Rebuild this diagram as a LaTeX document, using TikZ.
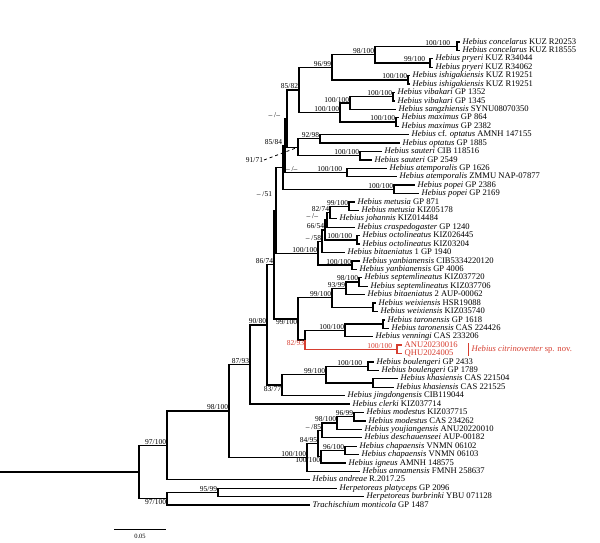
\documentclass[tikz,border=0pt]{standalone}
\usepackage{fontspec}
\setmainfont{Liberation Serif}
\usetikzlibrary{calc}
\definecolor{cred}{RGB}{214,62,48}
\tikzset{br/.style={line width=1.3pt},
  tip/.style={anchor=west, inner xsep=2.5pt, inner ysep=0pt, text height=6pt, text depth=1.8pt, font=\fontsize{8.6}{9}\selectfont},
  sup/.style={anchor=south east, inner sep=0.8pt, font=\fontsize{7.5}{8}\selectfont},
  supb/.style={sup, anchor=north east}}
\newcommand{\hb}[2]{\textit{Hebius #1} #2}

\begin{document}
\begin{tikzpicture}[x=1pt,y=-1pt]
    \useasboundingbox (0,0) rectangle (600,543);
    % tips
    \node[tip] (t1) at (460,42.0) {\hb{concelarus}{KUZ R20253}};
    \node[tip] (t2) at (460,50.4) {\hb{concelarus}{KUZ R18555}};
    \node[tip] (t3) at (433,58.8) {\hb{pryeri}{KUZ R34044}};
    \node[tip] (t4) at (433,67.3) {\hb{pryeri}{KUZ R34062}};
    \node[tip] (t5) at (410,75.7) {\hb{ishigakiensis}{KUZ R19251}};
    \node[tip] (t6) at (410,84.1) {\hb{ishigakiensis}{KUZ R19251}};
    \node[tip] (t7) at (395,92.5) {\hb{vibakari}{GP 1352}};
    \node[tip] (t8) at (395,100.9) {\hb{vibakari}{GP 1345}};
    \node[tip] (t9) at (396,109.4) {\hb{sangzhiensis}{SYNU08070350}};
    \node[tip] (t10) at (399,117.8) {\hb{maximus}{GP 864}};
    \node[tip] (t11) at (399,126.2) {\hb{maximus}{GP 2382}};
    \node[tip] (t12) at (409,134.6) {\textit{Hebius} cf. \textit{optatus} AMNH 147155};
    \node[tip] (t13) at (400,143.0) {\hb{optatus}{GP 1885}};
    \node[tip] (t14) at (382,151.5) {\hb{sauteri}{CIB 118516}};
    \node[tip] (t15) at (372,159.9) {\hb{sauteri}{GP 2549}};
    \node[tip] (t16) at (387,168.3) {\hb{atemporalis}{GP 1626}};
    \node[tip] (t17) at (397,176.7) {\hb{atemporalis}{ZMMU NAP-07877}};
    \node[tip] (t18) at (415,185.1) {\hb{popei}{GP 2386}};
    \node[tip] (t19) at (419,193.6) {\hb{popei}{GP 2169}};
    \node[tip] (t20) at (355,202.0) {\hb{metusia}{GP 871}};
    \node[tip] (t21) at (359,210.4) {\hb{metusia}{KIZ05178}};
    \node[tip] (t22) at (337,218.8) {\hb{johannis}{KIZ014484}};
    \node[tip] (t23) at (355,227.2) {\hb{craspedogaster}{GP 1240}};
    \node[tip] (t24) at (360,235.7) {\hb{octolineatus}{KIZ026445}};
    \node[tip] (t25) at (360,244.1) {\hb{octolineatus}{KIZ03204}};
    \node[tip] (t26) at (345,252.5) {\hb{bitaeniatus}{1 GP 1940}};
    \node[tip] (t27) at (360,260.9) {\hb{yanbianensis}{CIB5334220120}};
    \node[tip] (t28) at (357,269.3) {\hb{yanbianensis}{GP 4006}};
    \node[tip] (t29) at (362,277.8) {\hb{septemlineatus}{KIZ037720}};
    \node[tip] (t30) at (368,286.2) {\hb{septemlineatus}{KIZ037706}};
    \node[tip] (t31) at (365,294.6) {\hb{bitaeniatus}{2 AUP-00062}};
    \node[tip] (t32) at (376,303.0) {\hb{weixiensis}{HSR19088}};
    \node[tip] (t33) at (378,311.4) {\hb{weixiensis}{KIZ035740}};
    \node[tip] (t34) at (385,319.9) {\hb{taronensis}{GP 1618}};
    \node[tip] (t35) at (389,328.3) {\hb{taronensis}{CAS 224426}};
    \node[tip] (t36) at (373,336.7) {\hb{venningi}{CAS 233206}};
    \node[tip, text=cred] (t37) at (402,345.1) {ANU20230016};
    \node[tip, text=cred] (t38) at (402,353.5) {QHU2024005};
    \node[tip] (t39) at (374,362.0) {\hb{boulengeri}{GP 2433}};
    \node[tip] (t40) at (379,370.4) {\hb{boulengeri}{GP 1789}};
    \node[tip] (t41) at (398,378.8) {\hb{khasiensis}{CAS 221504}};
    \node[tip] (t42) at (394,387.2) {\hb{khasiensis}{CAS 221525}};
    \node[tip] (t43) at (345,395.6) {\hb{jingdongensis}{CIB119044}};
    \node[tip] (t44) at (350,404.1) {\hb{clerki}{KIZ037714}};
    \node[tip] (t45) at (364,412.5) {\hb{modestus}{KIZ037715}};
    \node[tip] (t46) at (366,420.9) {\hb{modestus}{CAS 234262}};
    \node[tip] (t47) at (362,429.3) {\hb{youjiangensis}{ANU20220010}};
    \node[tip] (t48) at (362,437.7) {\hb{deschauenseei}{AUP-00182}};
    \node[tip] (t49) at (357,446.2) {\hb{chapaensis}{VNMN 06102}};
    \node[tip] (t50) at (359,454.6) {\hb{chapaensis}{VNMN 06103}};
    \node[tip] (t51) at (346,463.0) {\hb{igneus}{AMNH 148575}};
    \node[tip] (t52) at (360,471.4) {\hb{annamensis}{FMNH 258637}};
    \node[tip] (t53) at (310,479.8) {\hb{andreae}{R.2017.25}};
    \node[tip] (t54) at (337,488.2) {\textit{Herpetoreas platyceps} GP 2096};
    \node[tip] (t55) at (364,496.7) {\textit{Herpetoreas burbrinki} YBU 071128};
    \node[tip] (t56) at (310,505.1) {\textit{Trachischium monticola} GP 1487};
    % inner nodes
    \coordinate (root) at (0,472.1);
    \coordinate (nA) at (139,472.1);
    \coordinate (nB) at (167,445.4);
    \coordinate (nO) at (167,498.8);
    \coordinate (nHer) at (218,492.5);
    \coordinate (nC) at (229,411.0);
    \coordinate (nD) at (250,364.5);
    \coordinate (nF) at (267,324.9);
    \coordinate (nG) at (274,264.6);
    \coordinate (nX) at (276,210.3);
    \coordinate (nS3) at (283,167.5);
    \coordinate (nS2) at (285,145.5);
    \coordinate (nS1) at (287,118.5);
    \coordinate (n85) at (299,89.9);
    \coordinate (n96) at (332,67.3);
    \coordinate (n98) at (375,54.6);
    \coordinate (nConc) at (457,46.2);
    \coordinate (nPry) at (430,63.0);
    \coordinate (nIsh) at (408,79.9);
    \coordinate (nVM) at (340,112.5);
    \coordinate (nVS) at (350,103.1);
    \coordinate (nVib) at (393,96.7);
    \coordinate (nMax) at (396,122.0);
    \coordinate (nR) at (298,147.2);
    \coordinate (nOpt) at (320,138.8);
    \coordinate (nSau) at (360,155.7);
    \coordinate (nAte) at (347,172.5);
    \coordinate (nPop) at (394,189.4);
    \coordinate (nM) at (318,253.2);
    \coordinate (nN3) at (322,241.2);
    \coordinate (nN2) at (325,230.0);
    \coordinate (nN1) at (327,220.0);
    \coordinate (nJ) at (330,212.5);
    \coordinate (nMet) at (349,206.2);
    \coordinate (nOct) at (357,239.9);
    \coordinate (nYan) at (352,265.1);
    \coordinate (nW) at (298,318.9);
    \coordinate (nZ) at (332,297.8);
    \coordinate (nZ1) at (346,288.3);
    \coordinate (nSep) at (359,282.0);
    \coordinate (nWei) at (373,307.2);
    \coordinate (nRN) at (305,339.9);
    \coordinate (nV) at (345,330.4);
    \coordinate (nTar) at (383,324.1);
    \coordinate (nRed) at (397,349.3);
    \coordinate (nH) at (282,385.1);
    \coordinate (nI) at (326,374.6);
    \coordinate (nBou) at (368,366.2);
    \coordinate (nKha) at (373,383.0);
    \coordinate (nE) at (307,457.5);
    \coordinate (nQ2) at (318,443.5);
    \coordinate (nQ1) at (322,430.4);
    \coordinate (nMY) at (337,423.0);
    \coordinate (nMod) at (354,416.7);
    \coordinate (nCI) at (321,456.7);
    \coordinate (nChap) at (345,450.4);
    % branches
    \draw[br] (root) -- (nA);
    \draw[br] (nA) |- (nB) (nA) |- (nO);
    \draw[br] (nO) |- (nHer) (nO) |- (t56);
    \draw[br] (nHer) |- (t54) (nHer) |- (t55);
    \draw[br] (nB) |- (nC) (nB) |- (t53);
    \draw[br] (nC) |- (nD) (nC) |- (nE);
    \draw[br] (nD) |- (nF) (nD) |- (t44);
    \draw[br] (nF) |- (nG) (nF) |- (nH);
    \draw[br] (nG) |- (nX) (nG) |- (nW);
    \draw[br] (nX) |- (nS3) (nX) |- (nM);
    \draw[br] (nS3) |- (nS2) (nS3) |- (nPop);
    \draw[br] (nS2) |- (nS1) (nS2) |- (nAte);
    \draw[br] (nS1) |- (n85) (nS1) |- (nR);
    \draw[br] (n85) |- (n96) (n85) |- (nVM);
    \draw[br] (n96) |- (n98) (n96) |- (nIsh);
    \draw[br] (n98) |- (nConc) (n98) |- (nPry);
    \draw[br] (nConc) |- (t1) (nConc) |- (t2);
    \draw[br] (nPry) |- (t3) (nPry) |- (t4);
    \draw[br] (nIsh) |- (t5) (nIsh) |- (t6);
    \draw[br] (nVM) |- (nVS) (nVM) |- (nMax);
    \draw[br] (nVS) |- (nVib) (nVS) |- (t9);
    \draw[br] (nVib) |- (t7) (nVib) |- (t8);
    \draw[br] (nMax) |- (t10) (nMax) |- (t11);
    \draw[br] (nR) |- (nOpt) (nR) |- (nSau);
    \draw[br] (nOpt) |- (t12) (nOpt) |- (t13);
    \draw[br] (nSau) |- (t14) (nSau) |- (t15);
    \draw[br] (nAte) |- (t16) (nAte) |- (t17);
    \draw[br] (nPop) |- (t18) (nPop) |- (t19);
    \draw[br] (nM) |- (nN3) (nM) |- (nYan);
    \draw[br] (nN3) |- (nN2) (nN3) |- (t26);
    \draw[br] (nN2) |- (nN1) (nN2) |- (nOct);
    \draw[br] (nN1) |- (nJ) (nN1) |- (t23);
    \draw[br] (nJ) |- (nMet) (nJ) |- (t22);
    \draw[br] (nMet) |- (t20) (nMet) |- (t21);
    \draw[br] (nOct) |- (t24) (nOct) |- (t25);
    \draw[br] (nYan) |- (t27) (nYan) |- (t28);
    \draw[br] (nW) |- (nZ) (nW) |- (nRN);
    \draw[br] (nZ) |- (nZ1) (nZ) |- (nWei);
    \draw[br] (nZ1) |- (nSep) (nZ1) |- (t31);
    \draw[br] (nSep) |- (t29) (nSep) |- (t30);
    \draw[br] (nWei) |- (t32) (nWei) |- (t33);
    \draw[br] (nRN) |- (nV);
    \draw[br, cred] (nRN) |- (nRed);
    \draw[br] (nV) |- (nTar) (nV) |- (t36);
    \draw[br] (nTar) |- (t34) (nTar) |- (t35);
    \draw[br, cred] (nRed) |- (t37) (nRed) |- (t38);
    \draw[br] (nH) |- (nI) (nH) |- (t43);
    \draw[br] (nI) |- (nBou) (nI) |- (nKha);
    \draw[br] (nBou) |- (t39) (nBou) |- (t40);
    \draw[br] (nKha) |- (t41) (nKha) |- (t42);
    \draw[br] (nE) |- (nQ2) (nE) |- (t52);
    \draw[br] (nQ2) |- (nQ1) (nQ2) |- (nCI);
    \draw[br] (nQ1) |- (nMY) (nQ1) |- (t48);
    \draw[br] (nMY) |- (nMod) (nMY) |- (t47);
    \draw[br] (nMod) |- (t45) (nMod) |- (t46);
    \draw[br] (nCI) |- (nChap) (nCI) |- (t51);
    \draw[br] (nChap) |- (t49) (nChap) |- (t50);
    % supports
    \node[sup, xshift=-6pt] at (nConc) {100/100};
    \node[sup, xshift=-4pt] at (nPry) {99/100};
    \node[sup] at (n98) {98/100};
    \node[sup] at (nIsh) {100/100};
    \node[sup] at (n96) {96/99};
    \node[sup] at (nVib) {100/100};
    \node[sup] at (nVS) {100/100};
    \node[sup] at (nMax) {100/100};
    \node[sup] at (nVM) {100/100};
    \node[sup] at (n85) {85/82};
    \node[sup] at (nOpt) {92/98};
    \node[sup] at (nSau) {100/100};
    \node[sup, xshift=-6pt] at (nS1) {-- /--};
    \node[sup, xshift=-2pt] at (nS2) {85/84};
    \node[sup, anchor=south west] at (nS2 |- nAte) {-- /--};
    \node[sup, anchor=east] (l91) at (264,160) {91/71};
    \draw[dashed, line width=0.8pt] (l91.east) -- (nR);
    \node[sup, xshift=-4pt] at (nAte) {100/100};
    \node[sup] at (nPop) {100/100};
    \node[sup] at ($(nX)+(-3,-13)$) {-- /51};
    \node[sup] at (nMet) {99/100};
    \node[sup] at (nJ) {82/74};
    \node[sup, xshift=-8pt] at (nN1) {-- /--};
    \node[sup] at (nN2) {66/54};
    \node[sup] at (nN3) {-- /58};
    \node[sup, xshift=-4pt] at (nOct) {100/100};
    \node[sup] at (nM) {100/100};
    \node[sup] at (nYan) {100/100};
    \node[sup] at (nG) {86/74};
    \node[sup] at (nSep) {98/100};
    \node[sup] at (nZ1) {93/99};
    \node[sup] at (nZ) {99/100};
    \node[supb] at (nW) {99/100};
    \node[sup] at (nV) {100/100};
    \node[supb, text=cred] at (nRN) {82/93};
    \node[sup, text=cred, xshift=-4pt] at (nRed) {100/100};
    \node[sup, xshift=-5pt] at (nBou) {100/100};
    \node[sup] at (nI) {99/100};
    \node[supb] at (nH) {83/77};
    \node[sup] at (nF) {90/80};
    \node[sup] at (nD) {87/93};
    \node[sup] at (nMod) {96/99};
    \node[sup] at (nMY) {98/100};
    \node[sup] at (nQ1) {-- /85};
    \node[sup] at (nQ2) {84/95};
    \node[sup] at (nChap) {96/100};
    \node[supb] at (nCI) {100/100};
    \node[sup] at (nE) {100/100};
    \node[sup] at (nC) {98/100};
    \node[sup] at (nB) {97/100};
    \node[supb] at (nO) {97/100};
    \node[sup] at (nHer) {95/99};
    % new species
    \coordinate (barT) at (468,343);
    \coordinate (barB) at (468,355.5);
    \draw[cred, line width=0.9pt] (barT) -- (barB);
    \node[tip, text=cred] (newsp) at (469,349.3) {\textit{Hebius citrinoventer} sp. nov.};
    % scale
    \coordinate (sc1) at (114,529);
    \coordinate (sc2) at (166,529);
    \draw[line width=1pt] (sc1) -- (sc2) node[midway, below=1.5pt, font=\fontsize{6.5}{7}\selectfont] {0.05};
\end{tikzpicture}
\end{document}
